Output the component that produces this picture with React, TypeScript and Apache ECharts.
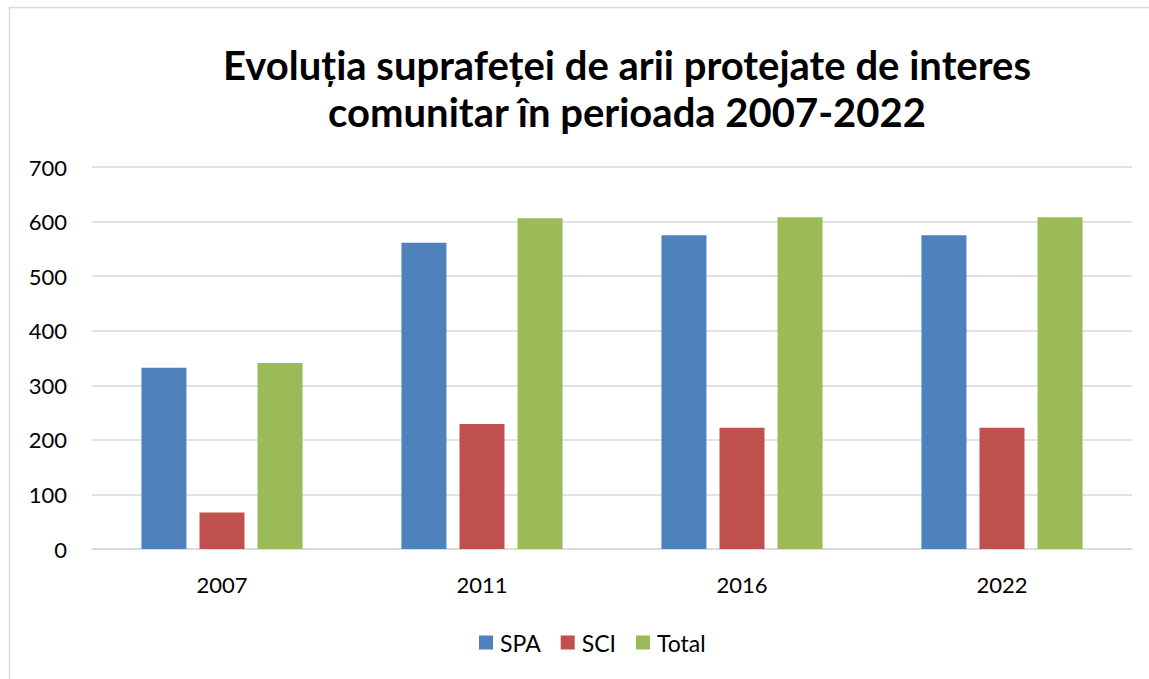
import React, { useEffect, useRef } from "react";
import * as echarts from "echarts";

const categories = ["2007", "2011", "2016", "2022"];
const spaValues = [332, 561, 575, 575];
const sciValues = [67, 229, 222, 222];
const totalValues = [341, 606, 608, 608];
const titleLines = ["Evoluția suprafeței de arii protejate de interes", "comunitar în perioada 2007-2022"];

export default function App() {
  const ref = useRef<HTMLDivElement>(null);
  useEffect(() => {
    document.body.style.margin = "0";
    const chart = echarts.init(ref.current!, undefined, { renderer: "svg" });
    const font = "Lato, 'Noto Sans', sans-serif";
    chart.setOption({
      animation: false,
      backgroundColor: "#ffffff",
      title: {
        text: titleLines.join("\n"),
        left: 622,
        top: 36,
        textAlign: "center",
        textStyle: { fontFamily: font, fontWeight: "bold", fontSize: 40, lineHeight: 47, color: "#000" },
      },
      graphic: [
        {
          type: "rect",
          shape: { x: 9.5, y: 7.5, width: 1300, height: 800 },
          style: { fill: "none", stroke: "#d9d9d9", lineWidth: 1.5 },
          silent: true,
        },
      ],
      legend: {
        left: 474,
        top: 626,
        itemWidth: 14,
        itemHeight: 14,
        itemGap: 20,
        icon: "rect",
        textStyle: { fontFamily: font, fontSize: 23, color: "#000", padding: [0, 0, 0, 2] },
        data: ["SPA", "SCI", "Total"],
      },
      grid: { left: 92, right: 17, top: 167, bottom: 130, containLabel: false },
      xAxis: {
        type: "category",
        data: categories,
        axisTick: { show: false },
        axisLine: { lineStyle: { color: "#d9d9d9", width: 1.5 } },
        axisLabel: { fontFamily: font, fontSize: 22, color: "#000", margin: 24 },
      },
      yAxis: {
        type: "value",
        min: 0,
        max: 700,
        interval: 100,
        axisLine: { show: false },
        axisTick: { show: false },
        splitLine: { lineStyle: { color: "#d9d9d9", width: 1.5 } },
        axisLabel: { fontFamily: font, fontSize: 22, color: "#000", margin: 25 },
      },
      series: [
        { name: "SPA", type: "bar", data: spaValues, barWidth: 45, barGap: "29%", itemStyle: { color: "#4f81bd" } },
        { name: "SCI", type: "bar", data: sciValues, barWidth: 45, barGap: "29%", itemStyle: { color: "#c0504d" } },
        { name: "Total", type: "bar", data: totalValues, barWidth: 45, barGap: "29%", itemStyle: { color: "#9bbb59" } },
      ],
    });
    return () => chart.dispose();
  }, []);
  return <div ref={ref} style={{ width: 1149, height: 679 }} />;
}
